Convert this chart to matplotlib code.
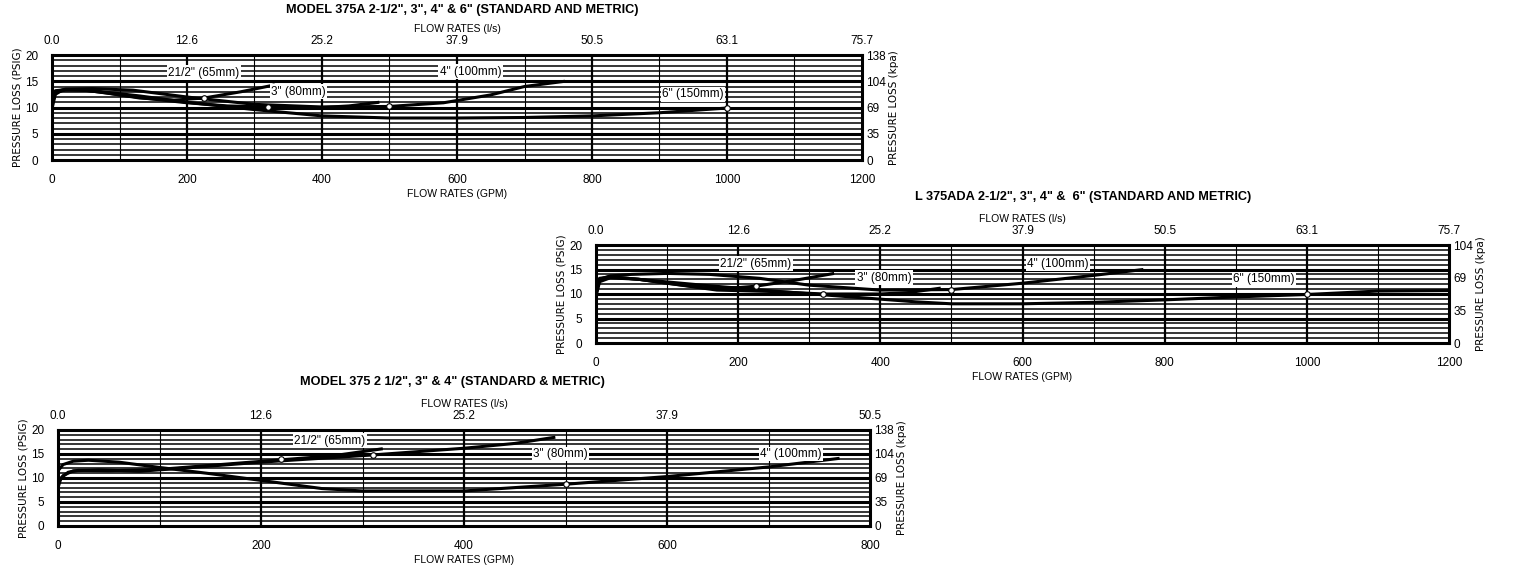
import matplotlib
matplotlib.use("Agg")
import matplotlib.pyplot as plt

plt.rcParams["font.family"] = ["Liberation Sans", "DejaVu Sans"]

W, H = 1514, 572

# ---- panel 1: Model 375A ----
p1_gpm_ticks = [0, 200, 400, 600, 800, 1000, 1200]
p1_ls_ticks = ["0.0", "12.6", "25.2", "37.9", "50.5", "63.1", "75.7"]
p1_kpa = ["0", "35", "69", "104", "138"]
p1_curves = {
    "25": ([0, 5, 15, 40, 80, 130, 180, 225, 280, 330],
           [9.8, 12.5, 13.3, 13.4, 12.8, 11.8, 11.4, 11.8, 13.0, 14.3]),
    "3": ([0, 5, 20, 50, 100, 150, 200, 260, 320, 400, 440, 485],
          [10.5, 12.8, 13.4, 13.3, 12.4, 11.6, 10.9, 10.3, 10.1, 10.0, 10.3, 11.0]),
    "4": ([0, 5, 20, 60, 120, 200, 300, 400, 500, 580, 650, 700, 760],
          [11.0, 13.0, 13.5, 13.6, 13.3, 12.0, 10.6, 10.1, 10.2, 10.9, 12.4, 14.0, 15.0]),
    "6": ([0, 5, 20, 60, 130, 200, 300, 400, 500, 600, 700, 800, 900, 1000],
          [12.0, 13.2, 13.4, 13.2, 12.2, 11.0, 9.6, 8.4, 8.0, 8.0, 8.1, 8.4, 9.0, 9.9]),
}
p1_marks = ([225, 320, 500, 1000], [11.8, 10.1, 10.2, 9.9])
p1_labels = [('21/2" (65mm)', 225, 16.6), ('3" (80mm)', 365, 13.0),
             ('4" (100mm)', 620, 16.8), ('6" (150mm)', 950, 12.5)]

# ---- panel 2: Model 375ADA ----
p2_kpa_pos = [0, 6.7, 13.3, 20]
p2_kpa = ["0", "35", "69", "104"]
p2_curves = {
    "25": ([0, 5, 20, 60, 100, 150, 200, 225, 280, 335],
           [9.5, 12.5, 13.3, 13.0, 12.2, 11.3, 11.3, 11.6, 12.8, 14.2]),
    "3": ([0, 5, 20, 60, 120, 170, 250, 320, 400, 440, 485],
          [10.0, 12.8, 13.5, 13.0, 11.8, 10.8, 10.5, 10.0, 10.0, 10.3, 11.2]),
    "4": ([0, 5, 20, 50, 100, 160, 230, 300, 400, 500, 600, 700, 770],
          [11.0, 13.0, 13.7, 14.0, 14.2, 14.0, 13.2, 11.8, 10.8, 10.9, 12.2, 13.8, 15.0]),
    "6": ([0, 5, 20, 60, 150, 250, 350, 450, 500, 600, 700, 800, 900, 1000, 1100, 1200],
          [12.0, 13.2, 13.5, 13.0, 11.8, 10.6, 9.5, 8.4, 8.0, 8.0, 8.3, 8.8, 9.4, 9.9, 10.6, 10.7]),
}
p2_marks = ([225, 320, 500, 1000], [11.6, 10.0, 10.9, 9.9])
p2_labels = [('21/2" (65mm)', 225, 16.2), ('3" (80mm)', 405, 13.3),
             ('4" (100mm)', 650, 16.2), ('6" (150mm)', 940, 13.0)]

# ---- panel 3: Model 375 ----
p3_gpm_ticks = [0, 200, 400, 600, 800]
p3_ls_ticks = ["0.0", "12.6", "25.2", "37.9", "50.5"]
p3_curves = {
    "25": ([0, 3, 10, 20, 50, 100, 160, 220, 270, 320],
           [8.0, 10.0, 11.2, 11.6, 11.5, 11.8, 12.8, 13.8, 14.6, 16.1]),
    "3": ([0, 5, 15, 40, 80, 120, 200, 310, 400, 450, 490],
          [9.0, 10.5, 11.5, 11.7, 11.4, 12.0, 13.3, 14.8, 16.2, 17.2, 18.5]),
    "4": ([0, 5, 15, 30, 60, 100, 150, 200, 260, 300, 400, 500, 600, 700, 770],
          [11.5, 12.8, 13.5, 13.7, 13.3, 12.2, 10.9, 9.5, 7.8, 7.3, 7.3, 8.7, 10.3, 12.3, 14.1]),
}
p3_marks = ([220, 310, 500], [13.9, 14.8, 8.8])
p3_labels = [('21/2" (65mm)', 268, 17.8), ('3" (80mm)', 495, 15.0),
             ('4" (100mm)', 722, 15.0)]


def rect(x0, y0, x1, y1):
    return [x0 / W, 1 - y1 / H, (x1 - x0) / W, (y1 - y0) / H]


def panel(fig, box, xmax, gpm_ticks, ls_ticks, kpa_pos, kpa, curves, marks, labels):
    ax = fig.add_axes(rect(*box))
    ax.set_xlim(0, xmax)
    ax.set_ylim(0, 20)
    for y in range(1, 20):
        ax.axhline(y, color="black", lw=2.2 if y % 5 == 0 else 1.1, zorder=1)
    for x in range(100, xmax, 100):
        ax.axvline(x, color="black", lw=1.6 if x % 200 == 0 else 0.8, zorder=1)
    for xs, ys in curves.values():
        ax.plot(xs, ys, color="black", lw=2.2, zorder=3, solid_capstyle="butt")
    ax.plot(*marks, "o", ms=4, mfc="white", mec="black", mew=0.8, zorder=4)
    for txt, x, y in labels:
        ax.text(x, y, txt, ha="center", va="center", fontsize=8.5, zorder=5,
                bbox=dict(fc="white", ec="none", pad=1))
    for s in ax.spines.values():
        s.set_linewidth(2.2)
    ax.set_xticks(gpm_ticks)
    ax.set_yticks([0, 5, 10, 15, 20])
    ax.tick_params(labelsize=8.5, length=0, pad=10)
    ax.set_xlabel("FLOW RATES (GPM)", fontsize=7.5, labelpad=2)
    ax.set_ylabel("PRESSURE LOSS (PSIG)", fontsize=7.5, family="DejaVu Sans", labelpad=2)
    top = ax.twiny()
    top.set_xlim(0, xmax)
    top.set_xticks(gpm_ticks)
    top.set_xticklabels(ls_ticks)
    top.tick_params(labelsize=8.5, length=0, pad=6)
    top.set_xlabel("FLOW RATES (l/s)", fontsize=7.5, labelpad=2)
    right = ax.twinx()
    right.set_ylim(0, 20)
    right.set_yticks(kpa_pos)
    right.set_yticklabels(kpa)
    right.tick_params(labelsize=8.5, length=0, pad=3)
    right.set_ylabel("PRESSURE LOSS (kpa)", fontsize=7.5, family="DejaVu Sans", labelpad=2)
    for a in (top, right):
        for s in a.spines.values():
            s.set_visible(False)
    return ax


fig = plt.figure(figsize=(W / 100, H / 100), dpi=100)
panel(fig, (52, 55, 862, 160), 1200, p1_gpm_ticks, p1_ls_ticks, [0, 5, 10, 15, 20], p1_kpa,
      p1_curves, p1_marks, p1_labels)
panel(fig, (596, 245, 1449, 343), 1200, p1_gpm_ticks, p1_ls_ticks, p2_kpa_pos, p2_kpa,
      p2_curves, p2_marks, p2_labels)
panel(fig, (58, 430, 870, 526), 800, p3_gpm_ticks, p3_ls_ticks, [0, 5, 10, 15, 20], p1_kpa,
      p3_curves, p3_marks, p3_labels)

fig.text(462 / W, 1 - 10 / H, 'MODEL 375A 2-1/2", 3", 4" & 6" (STANDARD AND METRIC)',
         ha="center", va="center", fontsize=9.2, weight="bold")
fig.text(915 / W, 1 - 197 / H, 'L 375ADA 2-1/2", 3", 4" &  6" (STANDARD AND METRIC)',
         ha="left", va="center", fontsize=9.2, weight="bold")
fig.text(452 / W, 1 - 382 / H, 'MODEL 375 2 1/2", 3" & 4" (STANDARD & METRIC)',
         ha="center", va="center", fontsize=9.2, weight="bold")

fig.savefig("out.png", dpi=100)
